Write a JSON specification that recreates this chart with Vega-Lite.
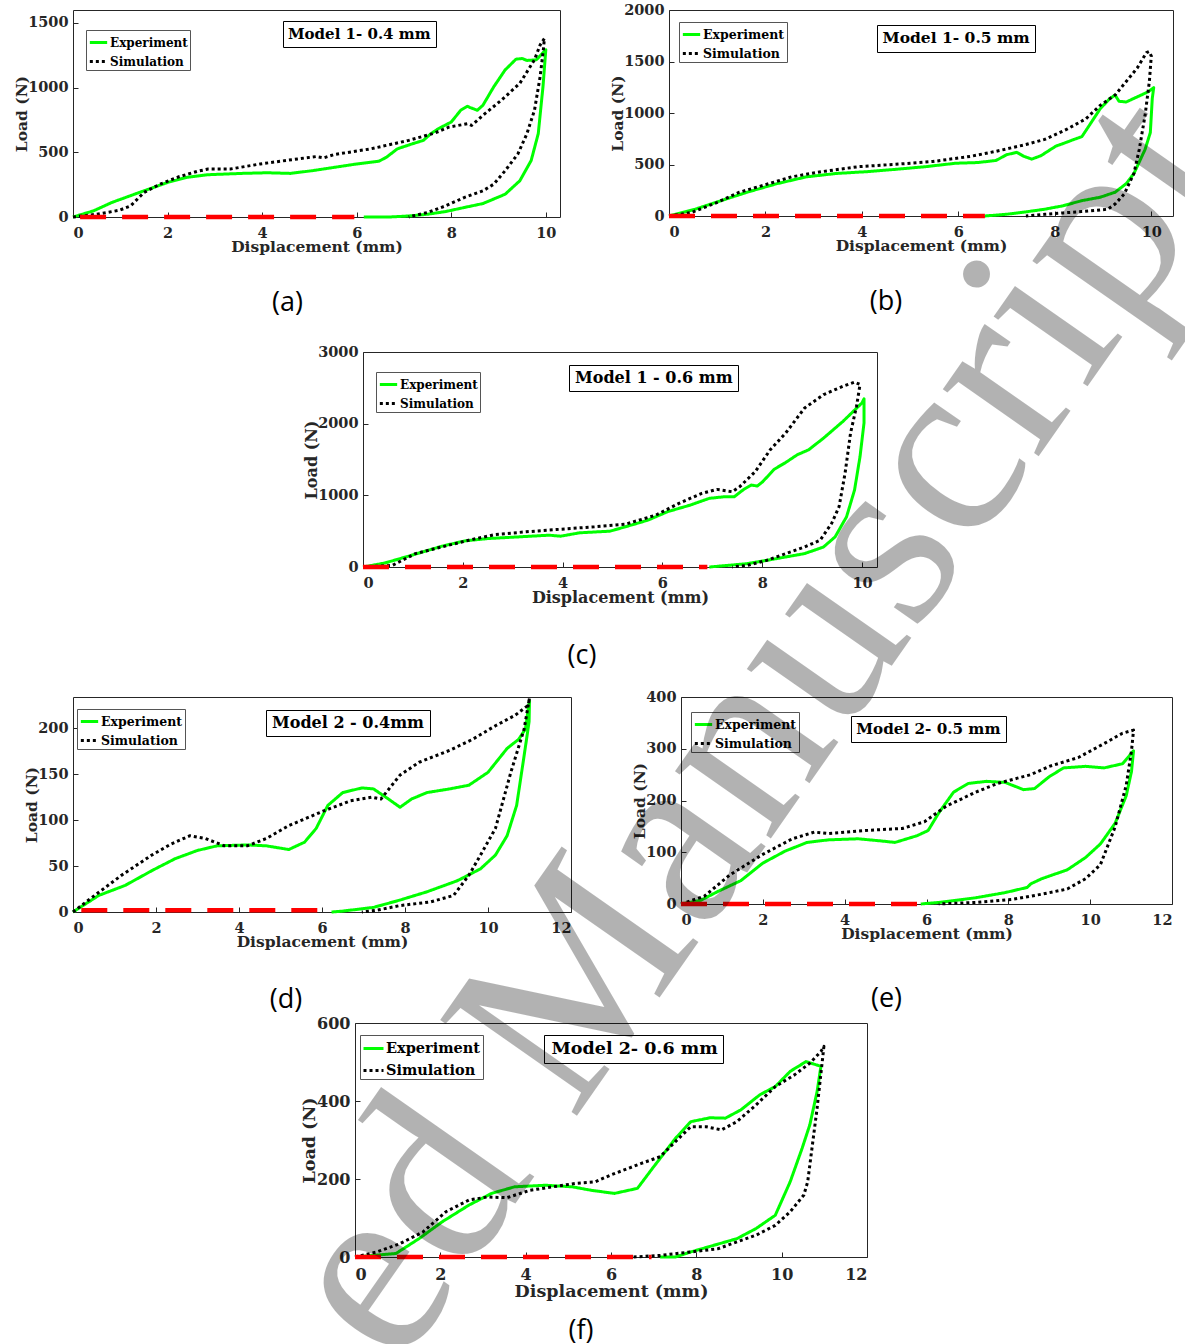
{
"$schema": "https://vega.github.io/schema/vega-lite/v6.json",
"background": "white",
"padding": {"left": 14, "top": 1, "right": 0, "bottom": 0},
"title": {"text": "ed Manuscript", "orient": "bottom", "frame": "bounds", "anchor": "start", "offset": 0, "angle": -55, "align": "left", "baseline": "alphabetic", "font": "Liberation Serif", "fontSize": 255, "fontWeight": "normal", "color": "rgba(0,0,0,0.3)", "dx": 198, "dy": 330, "zindex": 1},
"spacing": 0,
"resolve": {"scale": {"color": "independent", "strokeDash": "independent", "strokeWidth": "independent", "opacity": "independent"}, "legend": {"color": "independent", "strokeDash": "independent", "opacity": "independent"}},
"datasets": {
"a": [
{"s":"Experiment","x":0,"y":0},{"s":"Experiment","x":0.43,"y":47},{"s":"Experiment","x":0.82,"y":112},{"s":"Experiment","x":1.3,"y":176},{"s":"Experiment","x":1.6,"y":215},{"s":"Experiment","x":2.0,"y":267},{"s":"Experiment","x":2.4,"y":306},{"s":"Experiment","x":2.86,"y":327},{"s":"Experiment","x":3.57,"y":337},{"s":"Experiment","x":4.1,"y":342},{"s":"Experiment","x":4.6,"y":337},{"s":"Experiment","x":5.06,"y":358},{"s":"Experiment","x":5.53,"y":384},{"s":"Experiment","x":6.0,"y":410},{"s":"Experiment","x":6.47,"y":431},{"s":"Experiment","x":6.63,"y":462},{"s":"Experiment","x":6.86,"y":527},{"s":"Experiment","x":7.18,"y":566},{"s":"Experiment","x":7.41,"y":592},{"s":"Experiment","x":7.57,"y":644},{"s":"Experiment","x":7.73,"y":683},{"s":"Experiment","x":8.0,"y":734},{"s":"Experiment","x":8.2,"y":825},{"s":"Experiment","x":8.34,"y":856},{"s":"Experiment","x":8.4,"y":846},{"s":"Experiment","x":8.55,"y":825},{"s":"Experiment","x":8.67,"y":864},{"s":"Experiment","x":8.9,"y":1007},{"s":"Experiment","x":9.14,"y":1137},{"s":"Experiment","x":9.37,"y":1220},{"s":"Experiment","x":9.5,"y":1225},{"s":"Experiment","x":9.6,"y":1210},{"s":"Experiment","x":9.8,"y":1215},{"s":"Experiment","x":10.0,"y":1293},{"s":"Experiment","x":9.94,"y":1007},{"s":"Experiment","x":9.84,"y":644},{"s":"Experiment","x":9.69,"y":436},{"s":"Experiment","x":9.45,"y":280},{"s":"Experiment","x":9.14,"y":176},{"s":"Experiment","x":8.67,"y":104},{"s":"Experiment","x":8.27,"y":73},{"s":"Experiment","x":7.88,"y":42},{"s":"Experiment","x":7.49,"y":21},{"s":"Experiment","x":7.1,"y":8},{"s":"Experiment","x":6.7,"y":0},{"s":"Experiment","x":6.15,"y":0},
{"s":"Simulation","x":0,"y":0},{"s":"Simulation","x":0.5,"y":21},{"s":"Simulation","x":0.98,"y":52},{"s":"Simulation","x":1.22,"y":86},{"s":"Simulation","x":1.5,"y":189},{"s":"Simulation","x":1.84,"y":254},{"s":"Simulation","x":2.24,"y":311},{"s":"Simulation","x":2.63,"y":353},{"s":"Simulation","x":2.86,"y":371},{"s":"Simulation","x":3.33,"y":371},{"s":"Simulation","x":3.96,"y":410},{"s":"Simulation","x":4.75,"y":449},{"s":"Simulation","x":5.14,"y":467},{"s":"Simulation","x":5.3,"y":457},{"s":"Simulation","x":5.53,"y":483},{"s":"Simulation","x":6.3,"y":527},{"s":"Simulation","x":7.1,"y":592},{"s":"Simulation","x":7.65,"y":649},{"s":"Simulation","x":7.96,"y":696},{"s":"Simulation","x":8.35,"y":721},{"s":"Simulation","x":8.43,"y":708},{"s":"Simulation","x":8.67,"y":786},{"s":"Simulation","x":9.06,"y":903},{"s":"Simulation","x":9.45,"y":1033},{"s":"Simulation","x":9.76,"y":1215},{"s":"Simulation","x":9.88,"y":1330},{"s":"Simulation","x":9.97,"y":1380},{"s":"Simulation","x":9.95,"y":1300},{"s":"Simulation","x":9.88,"y":1085},{"s":"Simulation","x":9.76,"y":825},{"s":"Simulation","x":9.6,"y":644},{"s":"Simulation","x":9.41,"y":488},{"s":"Simulation","x":9.14,"y":358},{"s":"Simulation","x":8.9,"y":254},{"s":"Simulation","x":8.67,"y":202},{"s":"Simulation","x":8.27,"y":150},{"s":"Simulation","x":7.88,"y":86},{"s":"Simulation","x":7.49,"y":34},{"s":"Simulation","x":7.18,"y":8},{"s":"Simulation","x":7.1,"y":0},
{"s":"Zero","x":0.15,"y":0},{"s":"Zero","x":5.95,"y":0}
],
"b": [
{"s":"Experiment","x":0,"y":0},{"s":"Experiment","x":0.54,"y":66},{"s":"Experiment","x":1.08,"y":149},{"s":"Experiment","x":1.62,"y":231},{"s":"Experiment","x":2.24,"y":314},{"s":"Experiment","x":2.85,"y":380},{"s":"Experiment","x":3.47,"y":413},{"s":"Experiment","x":4.09,"y":430},{"s":"Experiment","x":4.7,"y":453},{"s":"Experiment","x":5.32,"y":479},{"s":"Experiment","x":5.94,"y":512},{"s":"Experiment","x":6.4,"y":519},{"s":"Experiment","x":6.78,"y":539},{"s":"Experiment","x":7.0,"y":595},{"s":"Experiment","x":7.21,"y":618},{"s":"Experiment","x":7.36,"y":579},{"s":"Experiment","x":7.52,"y":552},{"s":"Experiment","x":7.71,"y":585},{"s":"Experiment","x":8.02,"y":678},{"s":"Experiment","x":8.25,"y":717},{"s":"Experiment","x":8.4,"y":744},{"s":"Experiment","x":8.56,"y":770},{"s":"Experiment","x":8.71,"y":876},{"s":"Experiment","x":8.94,"y":1041},{"s":"Experiment","x":9.14,"y":1140},{"s":"Experiment","x":9.25,"y":1174},{"s":"Experiment","x":9.33,"y":1114},{"s":"Experiment","x":9.48,"y":1107},{"s":"Experiment","x":9.71,"y":1157},{"s":"Experiment","x":9.94,"y":1207},{"s":"Experiment","x":10.05,"y":1246},{"s":"Experiment","x":10.02,"y":1140},{"s":"Experiment","x":9.98,"y":810},{"s":"Experiment","x":9.87,"y":645},{"s":"Experiment","x":9.64,"y":413},{"s":"Experiment","x":9.48,"y":314},{"s":"Experiment","x":9.25,"y":231},{"s":"Experiment","x":8.94,"y":182},{"s":"Experiment","x":8.56,"y":149},{"s":"Experiment","x":8.17,"y":99},{"s":"Experiment","x":7.79,"y":66},{"s":"Experiment","x":7.4,"y":40},{"s":"Experiment","x":7.0,"y":17},{"s":"Experiment","x":6.55,"y":0},
{"s":"Simulation","x":0,"y":0},{"s":"Simulation","x":0.46,"y":33},{"s":"Simulation","x":1.0,"y":132},{"s":"Simulation","x":1.46,"y":231},{"s":"Simulation","x":2.0,"y":304},{"s":"Simulation","x":2.54,"y":380},{"s":"Simulation","x":3.16,"y":430},{"s":"Simulation","x":3.93,"y":479},{"s":"Simulation","x":4.7,"y":502},{"s":"Simulation","x":5.47,"y":529},{"s":"Simulation","x":6.25,"y":579},{"s":"Simulation","x":6.78,"y":628},{"s":"Simulation","x":7.4,"y":694},{"s":"Simulation","x":7.79,"y":744},{"s":"Simulation","x":8.25,"y":843},{"s":"Simulation","x":8.64,"y":942},{"s":"Simulation","x":8.94,"y":1074},{"s":"Simulation","x":9.25,"y":1174},{"s":"Simulation","x":9.48,"y":1306},{"s":"Simulation","x":9.71,"y":1438},{"s":"Simulation","x":9.9,"y":1587},{"s":"Simulation","x":9.95,"y":1597},{"s":"Simulation","x":10.0,"y":1554},{"s":"Simulation","x":9.96,"y":1306},{"s":"Simulation","x":9.87,"y":975},{"s":"Simulation","x":9.75,"y":645},{"s":"Simulation","x":9.64,"y":413},{"s":"Simulation","x":9.44,"y":215},{"s":"Simulation","x":9.25,"y":116},{"s":"Simulation","x":9.1,"y":66},{"s":"Simulation","x":8.56,"y":43},{"s":"Simulation","x":8.17,"y":30},{"s":"Simulation","x":7.79,"y":17},{"s":"Simulation","x":7.4,"y":0},
{"s":"Zero","x":0,"y":0},{"s":"Zero","x":6.55,"y":0}
],
"c": [
{"s":"Experiment","x":0,"y":0},{"s":"Experiment","x":0.44,"y":56},{"s":"Experiment","x":0.97,"y":163},{"s":"Experiment","x":1.58,"y":290},{"s":"Experiment","x":2.04,"y":364},{"s":"Experiment","x":2.5,"y":397},{"s":"Experiment","x":3.11,"y":420},{"s":"Experiment","x":3.73,"y":444},{"s":"Experiment","x":3.96,"y":430},{"s":"Experiment","x":4.34,"y":477},{"s":"Experiment","x":4.95,"y":500},{"s":"Experiment","x":5.26,"y":561},{"s":"Experiment","x":5.71,"y":654},{"s":"Experiment","x":6.1,"y":771},{"s":"Experiment","x":6.56,"y":864},{"s":"Experiment","x":6.94,"y":958},{"s":"Experiment","x":7.25,"y":981},{"s":"Experiment","x":7.44,"y":981},{"s":"Experiment","x":7.63,"y":1083},{"s":"Experiment","x":7.78,"y":1144},{"s":"Experiment","x":7.9,"y":1130},{"s":"Experiment","x":8.01,"y":1190},{"s":"Experiment","x":8.24,"y":1364},{"s":"Experiment","x":8.47,"y":1458},{"s":"Experiment","x":8.7,"y":1565},{"s":"Experiment","x":8.93,"y":1635},{"s":"Experiment","x":9.23,"y":1799},{"s":"Experiment","x":9.62,"y":2033},{"s":"Experiment","x":10.0,"y":2290},{"s":"Experiment","x":10.04,"y":2346},{"s":"Experiment","x":10.04,"y":2010},{"s":"Experiment","x":9.96,"y":1541},{"s":"Experiment","x":9.85,"y":1074},{"s":"Experiment","x":9.69,"y":701},{"s":"Experiment","x":9.46,"y":420},{"s":"Experiment","x":9.23,"y":280},{"s":"Experiment","x":8.85,"y":187},{"s":"Experiment","x":8.47,"y":140},{"s":"Experiment","x":8.09,"y":93},{"s":"Experiment","x":7.7,"y":47},{"s":"Experiment","x":7.32,"y":23},{"s":"Experiment","x":6.94,"y":0},
{"s":"Simulation","x":0,"y":0},{"s":"Simulation","x":0.59,"y":23},{"s":"Simulation","x":1.05,"y":187},{"s":"Simulation","x":1.58,"y":280},{"s":"Simulation","x":2.12,"y":374},{"s":"Simulation","x":2.65,"y":453},{"s":"Simulation","x":3.27,"y":491},{"s":"Simulation","x":3.88,"y":523},{"s":"Simulation","x":4.64,"y":561},{"s":"Simulation","x":5.26,"y":598},{"s":"Simulation","x":5.87,"y":724},{"s":"Simulation","x":6.33,"y":888},{"s":"Simulation","x":6.79,"y":1028},{"s":"Simulation","x":7.09,"y":1083},{"s":"Simulation","x":7.4,"y":1050},{"s":"Simulation","x":7.55,"y":1121},{"s":"Simulation","x":7.86,"y":1331},{"s":"Simulation","x":8.16,"y":1635},{"s":"Simulation","x":8.47,"y":1869},{"s":"Simulation","x":8.85,"y":2219},{"s":"Simulation","x":9.23,"y":2406},{"s":"Simulation","x":9.62,"y":2523},{"s":"Simulation","x":9.85,"y":2579},{"s":"Simulation","x":9.96,"y":2547},{"s":"Simulation","x":9.89,"y":2243},{"s":"Simulation","x":9.77,"y":1869},{"s":"Simulation","x":9.66,"y":1308},{"s":"Simulation","x":9.54,"y":841},{"s":"Simulation","x":9.39,"y":607},{"s":"Simulation","x":9.16,"y":374},{"s":"Simulation","x":8.85,"y":280},{"s":"Simulation","x":8.47,"y":187},{"s":"Simulation","x":8.09,"y":93},{"s":"Simulation","x":7.7,"y":23},{"s":"Simulation","x":7.4,"y":0},
{"s":"Zero","x":0,"y":0},{"s":"Zero","x":6.9,"y":0}
],
"d": [
{"s":"Experiment","x":0,"y":0},{"s":"Experiment","x":0.62,"y":18},{"s":"Experiment","x":1.26,"y":29},{"s":"Experiment","x":1.9,"y":45},{"s":"Experiment","x":2.46,"y":58},{"s":"Experiment","x":3.0,"y":67},{"s":"Experiment","x":3.47,"y":72},{"s":"Experiment","x":4.2,"y":73},{"s":"Experiment","x":4.66,"y":72},{"s":"Experiment","x":5.2,"y":68},{"s":"Experiment","x":5.58,"y":76},{"s":"Experiment","x":5.86,"y":91},{"s":"Experiment","x":6.14,"y":116},{"s":"Experiment","x":6.5,"y":130},{"s":"Experiment","x":6.96,"y":135},{"s":"Experiment","x":7.24,"y":134},{"s":"Experiment","x":7.6,"y":123},{"s":"Experiment","x":7.88,"y":114},{"s":"Experiment","x":8.16,"y":123},{"s":"Experiment","x":8.53,"y":130},{"s":"Experiment","x":9.08,"y":134},{"s":"Experiment","x":9.54,"y":138},{"s":"Experiment","x":10.0,"y":152},{"s":"Experiment","x":10.46,"y":178},{"s":"Experiment","x":10.74,"y":188},{"s":"Experiment","x":10.9,"y":199},{"s":"Experiment","x":11.0,"y":230},{"s":"Experiment","x":10.99,"y":207},{"s":"Experiment","x":10.87,"y":170},{"s":"Experiment","x":10.69,"y":116},{"s":"Experiment","x":10.46,"y":83},{"s":"Experiment","x":10.18,"y":62},{"s":"Experiment","x":9.82,"y":47},{"s":"Experiment","x":9.26,"y":34},{"s":"Experiment","x":8.53,"y":22},{"s":"Experiment","x":7.88,"y":13},{"s":"Experiment","x":7.24,"y":5},{"s":"Experiment","x":6.5,"y":1},{"s":"Experiment","x":6.23,"y":0},
{"s":"Simulation","x":0,"y":0},{"s":"Simulation","x":0.52,"y":18},{"s":"Simulation","x":1.17,"y":40},{"s":"Simulation","x":1.9,"y":62},{"s":"Simulation","x":2.36,"y":74},{"s":"Simulation","x":2.82,"y":83},{"s":"Simulation","x":3.19,"y":80},{"s":"Simulation","x":3.65,"y":72},{"s":"Simulation","x":4.2,"y":72},{"s":"Simulation","x":4.66,"y":80},{"s":"Simulation","x":5.2,"y":94},{"s":"Simulation","x":6.04,"y":110},{"s":"Simulation","x":6.69,"y":121},{"s":"Simulation","x":7.19,"y":125},{"s":"Simulation","x":7.42,"y":123},{"s":"Simulation","x":7.88,"y":149},{"s":"Simulation","x":8.34,"y":163},{"s":"Simulation","x":9.08,"y":176},{"s":"Simulation","x":9.63,"y":188},{"s":"Simulation","x":10.19,"y":203},{"s":"Simulation","x":10.65,"y":214},{"s":"Simulation","x":10.97,"y":225},{"s":"Simulation","x":11.0,"y":233},{"s":"Simulation","x":10.87,"y":199},{"s":"Simulation","x":10.55,"y":152},{"s":"Simulation","x":10.18,"y":91},{"s":"Simulation","x":9.82,"y":62},{"s":"Simulation","x":9.54,"y":40},{"s":"Simulation","x":9.17,"y":18},{"s":"Simulation","x":8.62,"y":11},{"s":"Simulation","x":7.88,"y":7},{"s":"Simulation","x":7.33,"y":2},{"s":"Simulation","x":6.96,"y":0},
{"s":"Zero","x":0.2,"y":2},{"s":"Zero","x":6.1,"y":2}
],
"e": [
{"s":"Experiment","x":0,"y":0},{"s":"Experiment","x":0.48,"y":7},{"s":"Experiment","x":0.92,"y":25},{"s":"Experiment","x":1.46,"y":45},{"s":"Experiment","x":2.0,"y":79},{"s":"Experiment","x":2.54,"y":102},{"s":"Experiment","x":3.08,"y":119},{"s":"Experiment","x":3.61,"y":124},{"s":"Experiment","x":4.33,"y":126},{"s":"Experiment","x":4.87,"y":122},{"s":"Experiment","x":5.23,"y":119},{"s":"Experiment","x":5.77,"y":132},{"s":"Experiment","x":6.04,"y":142},{"s":"Experiment","x":6.3,"y":176},{"s":"Experiment","x":6.66,"y":216},{"s":"Experiment","x":7.02,"y":233},{"s":"Experiment","x":7.47,"y":237},{"s":"Experiment","x":7.92,"y":235},{"s":"Experiment","x":8.37,"y":221},{"s":"Experiment","x":8.64,"y":223},{"s":"Experiment","x":9.0,"y":246},{"s":"Experiment","x":9.35,"y":263},{"s":"Experiment","x":9.89,"y":266},{"s":"Experiment","x":10.34,"y":263},{"s":"Experiment","x":10.79,"y":271},{"s":"Experiment","x":11.06,"y":296},{"s":"Experiment","x":11.01,"y":256},{"s":"Experiment","x":10.88,"y":209},{"s":"Experiment","x":10.61,"y":156},{"s":"Experiment","x":10.25,"y":116},{"s":"Experiment","x":9.89,"y":90},{"s":"Experiment","x":9.44,"y":66},{"s":"Experiment","x":8.82,"y":49},{"s":"Experiment","x":8.55,"y":39},{"s":"Experiment","x":8.46,"y":32},{"s":"Experiment","x":7.92,"y":22},{"s":"Experiment","x":7.2,"y":12},{"s":"Experiment","x":6.3,"y":3},{"s":"Experiment","x":5.86,"y":0},
{"s":"Simulation","x":0,"y":0},{"s":"Simulation","x":0.57,"y":15},{"s":"Simulation","x":1.19,"y":56},{"s":"Simulation","x":2.0,"y":96},{"s":"Simulation","x":2.72,"y":126},{"s":"Simulation","x":3.26,"y":139},{"s":"Simulation","x":3.61,"y":136},{"s":"Simulation","x":4.51,"y":142},{"s":"Simulation","x":5.41,"y":146},{"s":"Simulation","x":5.95,"y":159},{"s":"Simulation","x":6.48,"y":189},{"s":"Simulation","x":7.2,"y":216},{"s":"Simulation","x":7.74,"y":233},{"s":"Simulation","x":8.55,"y":250},{"s":"Simulation","x":9.0,"y":266},{"s":"Simulation","x":9.71,"y":283},{"s":"Simulation","x":10.34,"y":310},{"s":"Simulation","x":10.79,"y":330},{"s":"Simulation","x":11.06,"y":336},{"s":"Simulation","x":11.01,"y":296},{"s":"Simulation","x":10.88,"y":229},{"s":"Simulation","x":10.61,"y":149},{"s":"Simulation","x":10.25,"y":76},{"s":"Simulation","x":9.89,"y":49},{"s":"Simulation","x":9.44,"y":29},{"s":"Simulation","x":8.82,"y":19},{"s":"Simulation","x":8.1,"y":9},{"s":"Simulation","x":7.2,"y":3},{"s":"Simulation","x":6.3,"y":0},
{"s":"Zero","x":0,"y":0},{"s":"Zero","x":5.8,"y":0}
],
"f": [
{"s":"Experiment","x":0,"y":0},{"s":"Experiment","x":0.42,"y":4},{"s":"Experiment","x":0.96,"y":9},{"s":"Experiment","x":1.5,"y":47},{"s":"Experiment","x":2.04,"y":90},{"s":"Experiment","x":2.67,"y":133},{"s":"Experiment","x":3.2,"y":163},{"s":"Experiment","x":3.74,"y":180},{"s":"Experiment","x":4.46,"y":184},{"s":"Experiment","x":5.09,"y":180},{"s":"Experiment","x":5.54,"y":171},{"s":"Experiment","x":6.08,"y":163},{"s":"Experiment","x":6.62,"y":176},{"s":"Experiment","x":6.97,"y":227},{"s":"Experiment","x":7.51,"y":304},{"s":"Experiment","x":7.87,"y":347},{"s":"Experiment","x":8.32,"y":357},{"s":"Experiment","x":8.68,"y":356},{"s":"Experiment","x":9.04,"y":377},{"s":"Experiment","x":9.49,"y":416},{"s":"Experiment","x":9.85,"y":437},{"s":"Experiment","x":10.2,"y":476},{"s":"Experiment","x":10.57,"y":501},{"s":"Experiment","x":10.92,"y":489},{"s":"Experiment","x":10.83,"y":424},{"s":"Experiment","x":10.66,"y":339},{"s":"Experiment","x":10.48,"y":279},{"s":"Experiment","x":10.2,"y":193},{"s":"Experiment","x":9.85,"y":107},{"s":"Experiment","x":9.4,"y":73},{"s":"Experiment","x":8.95,"y":47},{"s":"Experiment","x":8.41,"y":30},{"s":"Experiment","x":7.87,"y":13},{"s":"Experiment","x":7.51,"y":0},{"s":"Experiment","x":7.15,"y":0},
{"s":"Simulation","x":0,"y":0},{"s":"Simulation","x":0.51,"y":13},{"s":"Simulation","x":1.05,"y":34},{"s":"Simulation","x":1.59,"y":64},{"s":"Simulation","x":2.13,"y":116},{"s":"Simulation","x":2.67,"y":146},{"s":"Simulation","x":3.11,"y":154},{"s":"Simulation","x":3.56,"y":152},{"s":"Simulation","x":4.1,"y":171},{"s":"Simulation","x":4.64,"y":180},{"s":"Simulation","x":5.18,"y":189},{"s":"Simulation","x":5.63,"y":193},{"s":"Simulation","x":5.99,"y":210},{"s":"Simulation","x":6.71,"y":240},{"s":"Simulation","x":7.15,"y":257},{"s":"Simulation","x":7.51,"y":296},{"s":"Simulation","x":7.87,"y":334},{"s":"Simulation","x":8.23,"y":334},{"s":"Simulation","x":8.59,"y":326},{"s":"Simulation","x":8.95,"y":347},{"s":"Simulation","x":9.4,"y":390},{"s":"Simulation","x":9.85,"y":437},{"s":"Simulation","x":10.3,"y":467},{"s":"Simulation","x":10.66,"y":497},{"s":"Simulation","x":10.92,"y":527},{"s":"Simulation","x":10.99,"y":540},{"s":"Simulation","x":10.83,"y":381},{"s":"Simulation","x":10.7,"y":270},{"s":"Simulation","x":10.61,"y":193},{"s":"Simulation","x":10.52,"y":159},{"s":"Simulation","x":10.2,"y":116},{"s":"Simulation","x":9.85,"y":81},{"s":"Simulation","x":9.4,"y":56},{"s":"Simulation","x":8.5,"y":21},{"s":"Simulation","x":7.87,"y":13},{"s":"Simulation","x":7.15,"y":4},{"s":"Simulation","x":6.53,"y":0},
{"s":"Zero","x":0,"y":0},{"s":"Zero","x":6.95,"y":0}
]
},
"vconcat": [
{"hconcat": [
 {"width": 487, "height": 207, "data": {"name": "a"},
  "title": {"text": "(a)", "orient": "bottom", "dx": -29, "offset": 35},
  "mark": {"type": "line", "strokeCap": "butt", "strokeJoin": "round"},
  "encoding": {
   "x": {"field": "x", "type": "quantitative", "scale": {"domain": [0, 10.3], "nice": false}, "axis": {"values": [0,2,4,6,8,10], "format": "d", "title": "Displacement (mm)"}},
   "y": {"field": "y", "type": "quantitative", "scale": {"domain": [0, 1600], "nice": false}, "axis": {"values": [0,500,1000,1500], "format": "d", "title": "Load (N)"}},
   "color": {"field": "s", "type": "nominal", "scale": {"domain": ["Experiment","Simulation","Zero"], "range": ["#00ff00","#000000","#ff0000"]}, "legend": {"title": null, "values": ["Experiment","Simulation"], "legendX": 13, "legendY": 20}},
   "strokeDash": {"field": "s", "type": "nominal", "scale": {"domain": ["Experiment","Simulation","Zero"], "range": [[1,0],[3,3],[26,16]]}, "legend": {"title": null, "values": ["Experiment","Simulation"], "legendX": 13, "legendY": 20}},
   "strokeWidth": {"field": "s", "type": "nominal", "scale": {"type": "ordinal", "domain": ["Experiment","Simulation","Zero"], "range": [3,3,4.5]}, "legend": null},
   "opacity": {"datum": "Model 1- 0.4 mm", "type": "nominal", "scale": {"range": [1,1]}, "legend": {"title": null, "legendX": 210, "legendY": 11, "symbolSize": 0, "symbolOpacity": 0, "symbolStrokeWidth": 0, "labelOffset": -15, "labelFontSize": 15, "strokeColor": "#000", "padding": 5}},
   "order": {"value": null}
  }},
 {"width": 49, "height": 1, "data": {"values": [{}]}, "mark": {"type": "rect", "fill": "white"}, "view": {"stroke": null}},
 {"width": 504, "height": 206, "data": {"name": "b"},
  "title": {"text": "(b)", "orient": "bottom", "dx": -35, "offset": 35},
  "mark": {"type": "line", "strokeCap": "butt", "strokeJoin": "round"},
  "encoding": {
   "x": {"field": "x", "type": "quantitative", "scale": {"domain": [0, 10.45], "nice": false}, "axis": {"values": [0,2,4,6,8,10], "format": "d", "title": "Displacement (mm)"}},
   "y": {"field": "y", "type": "quantitative", "scale": {"domain": [0, 2000], "nice": false}, "axis": {"values": [0,500,1000,1500,2000], "format": "d", "title": "Load (N)"}},
   "color": {"field": "s", "type": "nominal", "scale": {"domain": ["Experiment","Simulation","Zero"], "range": ["#00ff00","#000000","#ff0000"]}, "legend": {"title": null, "values": ["Experiment","Simulation"], "legendX": 10, "legendY": 12, "labelFontSize": 12.5}},
   "strokeDash": {"field": "s", "type": "nominal", "scale": {"domain": ["Experiment","Simulation","Zero"], "range": [[1,0],[3,3],[26,16]]}, "legend": {"title": null, "values": ["Experiment","Simulation"], "legendX": 10, "legendY": 12, "labelFontSize": 12.5}},
   "strokeWidth": {"field": "s", "type": "nominal", "scale": {"type": "ordinal", "domain": ["Experiment","Simulation","Zero"], "range": [3,3,4.5]}, "legend": null},
   "opacity": {"datum": "Model 1- 0.5 mm", "type": "nominal", "scale": {"range": [1,1]}, "legend": {"title": null, "legendX": 208, "legendY": 15, "symbolSize": 0, "symbolOpacity": 0, "symbolStrokeWidth": 0, "labelOffset": -15, "labelFontSize": 15.5, "strokeColor": "#000", "padding": 5}},
   "order": {"value": null}
  }}
 ], "spacing": 0,
 "resolve": {"scale": {"color": "independent", "strokeDash": "independent", "strokeWidth": "independent", "opacity": "independent"}, "legend": {"color": "independent", "strokeDash": "independent", "opacity": "independent"}}},
{"width": 1, "height": 26, "data": {"values": [{}]}, "mark": {"type": "rect", "fill": "white"}, "view": {"stroke": null}},
{"hconcat": [
 {"width": 230, "height": 1, "data": {"values": [{}]}, "mark": {"type": "rect", "fill": "white"}, "view": {"stroke": null}},
 {"width": 514, "height": 215, "data": {"name": "c"},
  "title": {"text": "(c)", "orient": "bottom", "dx": -38, "offset": 37},
  "mark": {"type": "line", "strokeCap": "butt", "strokeJoin": "round"},
  "encoding": {
   "x": {"field": "x", "type": "quantitative", "scale": {"domain": [0, 10.3], "nice": false}, "axis": {"values": [0,2,4,6,8,10], "format": "d", "title": "Displacement (mm)", "titleFontSize": 16}},
   "y": {"field": "y", "type": "quantitative", "scale": {"domain": [0, 3000], "nice": false}, "axis": {"values": [0,1000,2000,3000], "format": "d", "title": "Load (N)", "titleFontSize": 16}},
   "color": {"field": "s", "type": "nominal", "scale": {"domain": ["Experiment","Simulation","Zero"], "range": ["#00ff00","#000000","#ff0000"]}, "legend": {"title": null, "values": ["Experiment","Simulation"], "legendX": 13, "legendY": 20}},
   "strokeDash": {"field": "s", "type": "nominal", "scale": {"domain": ["Experiment","Simulation","Zero"], "range": [[1,0],[3,3],[26,16]]}, "legend": {"title": null, "values": ["Experiment","Simulation"], "legendX": 13, "legendY": 20}},
   "strokeWidth": {"field": "s", "type": "nominal", "scale": {"type": "ordinal", "domain": ["Experiment","Simulation","Zero"], "range": [3,3,4.5]}, "legend": null},
   "opacity": {"datum": "Model 1 - 0.6 mm", "type": "nominal", "scale": {"range": [1,1]}, "legend": {"title": null, "legendX": 206, "legendY": 13, "symbolSize": 0, "symbolOpacity": 0, "symbolStrokeWidth": 0, "labelOffset": -15, "labelFontSize": 16, "strokeColor": "#000", "padding": 5}},
   "order": {"value": null}
  }}
 ], "spacing": 0,
 "resolve": {"scale": {"color": "independent", "strokeDash": "independent", "strokeWidth": "independent", "opacity": "independent"}, "legend": {"color": "independent", "strokeDash": "independent", "opacity": "independent"}}},
{"width": 1, "height": 19, "data": {"values": [{}]}, "mark": {"type": "rect", "fill": "white"}, "view": {"stroke": null}},
{"hconcat": [
 {"width": 498, "height": 215, "data": {"name": "d"},
  "title": {"text": "(d)", "orient": "bottom", "dx": -36, "offset": 37},
  "mark": {"type": "line", "strokeCap": "butt", "strokeJoin": "round"},
  "encoding": {
   "x": {"field": "x", "type": "quantitative", "scale": {"domain": [0, 12], "nice": false}, "axis": {"values": [0,2,4,6,8,10,12], "format": "d", "title": "Displacement (mm)"}},
   "y": {"field": "y", "type": "quantitative", "scale": {"domain": [0, 234], "nice": false}, "axis": {"values": [0,50,100,150,200], "format": "d", "title": "Load (N)"}},
   "color": {"field": "s", "type": "nominal", "scale": {"domain": ["Experiment","Simulation","Zero"], "range": ["#00ff00","#000000","#ff0000"]}, "legend": {"title": null, "values": ["Experiment","Simulation"], "legendX": 4, "legendY": 12, "labelFontSize": 12.5}},
   "strokeDash": {"field": "s", "type": "nominal", "scale": {"domain": ["Experiment","Simulation","Zero"], "range": [[1,0],[3,3],[26,16]]}, "legend": {"title": null, "values": ["Experiment","Simulation"], "legendX": 4, "legendY": 12, "labelFontSize": 12.5}},
   "strokeWidth": {"field": "s", "type": "nominal", "scale": {"type": "ordinal", "domain": ["Experiment","Simulation","Zero"], "range": [3,3,4.5]}, "legend": null},
   "opacity": {"datum": "Model 2 - 0.4mm", "type": "nominal", "scale": {"range": [1,1]}, "legend": {"title": null, "legendX": 193, "legendY": 13, "symbolSize": 0, "symbolOpacity": 0, "symbolStrokeWidth": 0, "labelOffset": -15, "labelFontSize": 16, "strokeColor": "#000", "padding": 5}},
   "order": {"value": null}
  }},
 {"width": 60, "height": 1, "data": {"values": [{}]}, "mark": {"type": "rect", "fill": "white"}, "view": {"stroke": null}},
 {"width": 491, "height": 207, "data": {"name": "e"},
  "title": {"text": "(e)", "orient": "bottom", "dx": -40, "offset": 44},
  "mark": {"type": "line", "strokeCap": "butt", "strokeJoin": "round"},
  "encoding": {
   "x": {"field": "x", "type": "quantitative", "scale": {"domain": [0, 12], "nice": false}, "axis": {"values": [0,2,4,6,8,10,12], "format": "d", "title": "Displacement (mm)"}},
   "y": {"field": "y", "type": "quantitative", "scale": {"domain": [0, 400], "nice": false}, "axis": {"values": [0,100,200,300,400], "format": "d", "title": "Load (N)"}},
   "color": {"field": "s", "type": "nominal", "scale": {"domain": ["Experiment","Simulation","Zero"], "range": ["#00ff00","#000000","#ff0000"]}, "legend": {"title": null, "values": ["Experiment","Simulation"], "legendX": 10, "legendY": 15, "labelFontSize": 12.5}},
   "strokeDash": {"field": "s", "type": "nominal", "scale": {"domain": ["Experiment","Simulation","Zero"], "range": [[1,0],[3,3],[26,16]]}, "legend": {"title": null, "values": ["Experiment","Simulation"], "legendX": 10, "legendY": 15, "labelFontSize": 12.5}},
   "strokeWidth": {"field": "s", "type": "nominal", "scale": {"type": "ordinal", "domain": ["Experiment","Simulation","Zero"], "range": [3,3,4.5]}, "legend": null},
   "opacity": {"datum": "Model 2- 0.5 mm", "type": "nominal", "scale": {"range": [1,1]}, "legend": {"title": null, "legendX": 170, "legendY": 19, "symbolSize": 0, "symbolOpacity": 0, "symbolStrokeWidth": 0, "labelOffset": -15, "labelFontSize": 15.2, "strokeColor": "#000", "padding": 5}},
   "order": {"value": null}
  }}
 ], "spacing": 0,
 "resolve": {"scale": {"color": "independent", "strokeDash": "independent", "strokeWidth": "independent", "opacity": "independent"}, "legend": {"color": "independent", "strokeDash": "independent", "opacity": "independent"}}},
{"hconcat": [
 {"width": 227, "height": 1, "data": {"values": [{}]}, "mark": {"type": "rect", "fill": "white"}, "view": {"stroke": null}},
 {"width": 512, "height": 234, "data": {"name": "f"},
  "title": {"text": "(f)", "orient": "bottom", "dx": -30, "offset": 18},
  "mark": {"type": "line", "strokeCap": "butt", "strokeJoin": "round"},
  "encoding": {
   "x": {"field": "x", "type": "quantitative", "scale": {"domain": [0, 12], "nice": false}, "axis": {"values": [0,2,4,6,8,10,12], "format": "d", "title": "Displacement (mm)", "labelFontSize": 16, "titleFontSize": 17.5}},
   "y": {"field": "y", "type": "quantitative", "scale": {"domain": [0, 600], "nice": false}, "axis": {"values": [0,200,400,600], "format": "d", "title": "Load (N)", "labelFontSize": 16, "titleFontSize": 17.5}},
   "color": {"field": "s", "type": "nominal", "scale": {"domain": ["Experiment","Simulation","Zero"], "range": ["#00ff00","#000000","#ff0000"]}, "legend": {"title": null, "values": ["Experiment","Simulation"], "legendX": 5, "legendY": 12, "labelFontSize": 14.5, "symbolSize": 400, "rowPadding": 4}},
   "strokeDash": {"field": "s", "type": "nominal", "scale": {"domain": ["Experiment","Simulation","Zero"], "range": [[1,0],[3,3],[26,16]]}, "legend": {"title": null, "values": ["Experiment","Simulation"], "legendX": 5, "legendY": 12, "labelFontSize": 14.5, "symbolSize": 400, "rowPadding": 4}},
   "strokeWidth": {"field": "s", "type": "nominal", "scale": {"type": "ordinal", "domain": ["Experiment","Simulation","Zero"], "range": [3,3,4.5]}, "legend": null},
   "opacity": {"datum": "Model 2- 0.6 mm", "type": "nominal", "scale": {"range": [1,1]}, "legend": {"title": null, "legendX": 189, "legendY": 12, "symbolSize": 0, "symbolOpacity": 0, "symbolStrokeWidth": 0, "labelOffset": -15, "labelFontSize": 17.5, "strokeColor": "#000", "padding": 5}},
   "order": {"value": null}
  }}
 ], "spacing": 0,
 "resolve": {"scale": {"color": "independent", "strokeDash": "independent", "strokeWidth": "independent", "opacity": "independent"}, "legend": {"color": "independent", "strokeDash": "independent", "opacity": "independent"}}}
],
"config": {
 "view": {"stroke": "#262626", "strokeWidth": 1},
 "axis": {"grid": false, "domain": false, "ticks": true, "tickSize": -5, "tickColor": "#262626", "labelFont": "DejaVu Serif", "labelFontWeight": "bold", "labelFontSize": 14.5, "labelColor": "#262626", "titleFont": "DejaVu Serif", "titleFontWeight": "bold", "titleFontSize": 15.5, "titleColor": "#262626"},
 "axisX": {"labelPadding": 14, "titlePadding": 0},
 "axisY": {"labelPadding": 10, "titlePadding": -2, "minExtent": 0},
 "legend": {"orient": "none", "symbolType": "stroke", "symbolSize": 300, "symbolStrokeWidth": 3, "labelFont": "DejaVu Serif", "labelFontWeight": "bold", "labelFontSize": 12, "labelColor": "#000", "strokeColor": "#555", "fillColor": "white", "padding": 2, "rowPadding": 2, "labelOffset": 1, "labelLimit": 400},
 "title": {"font": "Open Sans", "fontSize": 27, "fontWeight": "normal", "color": "#000"}
}
}
